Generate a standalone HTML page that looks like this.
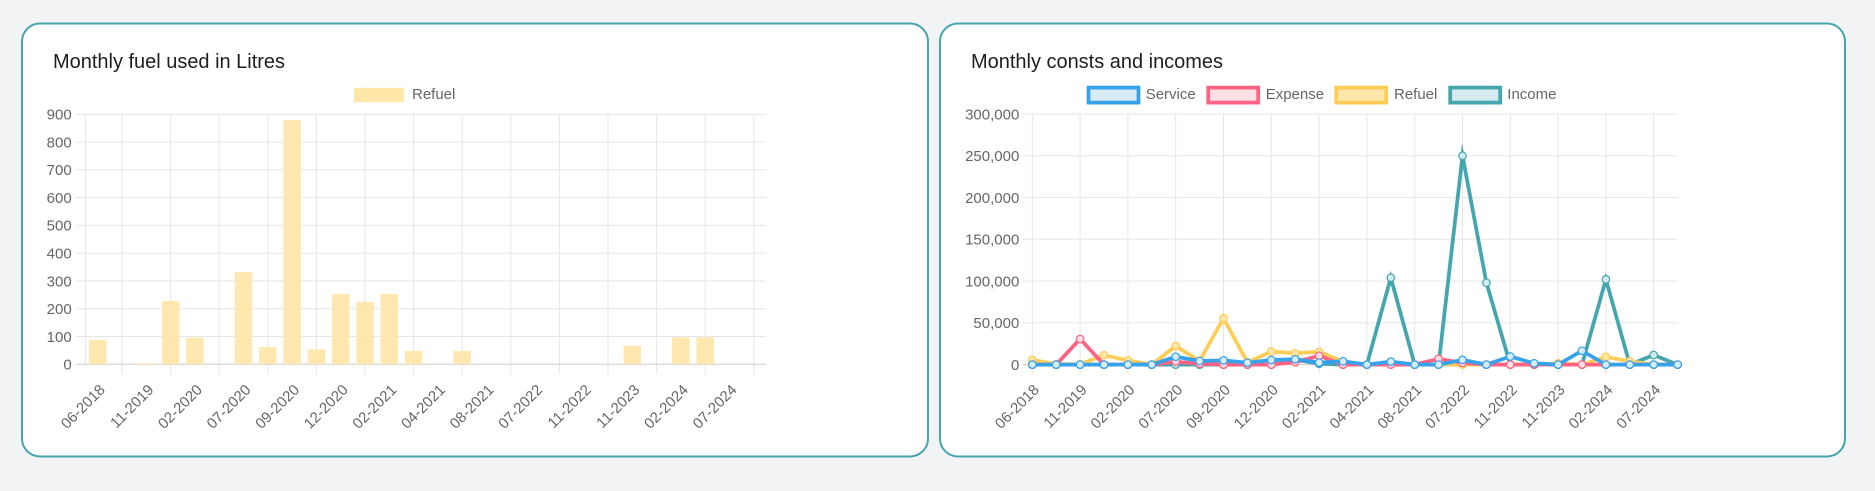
<!DOCTYPE html>
<html>
<head>
<meta charset="utf-8">
<style>
html,body{margin:0;padding:0;background:#f2f3f5;}
svg{display:block;}
text{font-family:"Liberation Sans",Arial,sans-serif;}
</style>
</head>
<body>
<svg width="1875" height="491" viewBox="0 0 1875 491" xmlns="http://www.w3.org/2000/svg">
<rect x="0" y="0" width="1875" height="491" fill="#f2f3f5"/>
<!-- Cards -->
<rect x="22" y="23.5" width="906" height="433" rx="18" ry="18" fill="#ffffff" stroke="#45a4ad" stroke-width="2"/>
<rect x="940" y="23.5" width="905" height="433" rx="18" ry="18" fill="#ffffff" stroke="#45a4ad" stroke-width="2"/>

<!-- Titles -->
<text x="53" y="68" font-size="20" fill="#1e1e1e" textLength="232" lengthAdjust="spacingAndGlyphs">Monthly fuel used in Litres</text>
<text x="971" y="68" font-size="20" fill="#1e1e1e" textLength="252" lengthAdjust="spacingAndGlyphs">Monthly consts and incomes</text>

<!-- ================= LEFT CHART ================= -->
<g stroke="#e6e6e6" stroke-width="1">
  <!-- horizontal gridlines -->
  <line x1="76" y1="336.5" x2="766" y2="336.5"/>
  <line x1="76" y1="308.7" x2="766" y2="308.7"/>
  <line x1="76" y1="281.0" x2="766" y2="281.0"/>
  <line x1="76" y1="253.2" x2="766" y2="253.2"/>
  <line x1="76" y1="225.4" x2="766" y2="225.4"/>
  <line x1="76" y1="197.6" x2="766" y2="197.6"/>
  <line x1="76" y1="169.8" x2="766" y2="169.8"/>
  <line x1="76" y1="142.1" x2="766" y2="142.1"/>
  <line x1="76" y1="114.3" x2="766" y2="114.3"/>
  <!-- vertical gridlines -->
  <line x1="85.5" y1="114.3" x2="85.5" y2="364.3"/>
  <line x1="122.0" y1="114.3" x2="122.0" y2="374.3"/>
  <line x1="170.6" y1="114.3" x2="170.6" y2="374.3"/>
  <line x1="219.2" y1="114.3" x2="219.2" y2="374.3"/>
  <line x1="267.8" y1="114.3" x2="267.8" y2="374.3"/>
  <line x1="316.4" y1="114.3" x2="316.4" y2="374.3"/>
  <line x1="365.0" y1="114.3" x2="365.0" y2="374.3"/>
  <line x1="413.6" y1="114.3" x2="413.6" y2="374.3"/>
  <line x1="462.2" y1="114.3" x2="462.2" y2="374.3"/>
  <line x1="510.8" y1="114.3" x2="510.8" y2="374.3"/>
  <line x1="559.4" y1="114.3" x2="559.4" y2="374.3"/>
  <line x1="608.0" y1="114.3" x2="608.0" y2="374.3"/>
  <line x1="656.6" y1="114.3" x2="656.6" y2="374.3"/>
  <line x1="705.2" y1="114.3" x2="705.2" y2="374.3"/>
  <line x1="753.8" y1="114.3" x2="753.8" y2="374.3"/>
</g>
<line x1="76" y1="364.3" x2="766" y2="364.3" stroke="#cccccc" stroke-width="1"/>

<!-- bars -->
<g fill="#ffe6a9" fill-opacity="0.92">
  <rect x="88.95" y="339.9" width="17.5" height="24.4"/>
  <rect x="137.55" y="363.3" width="17.5" height="1.0"/>
  <rect x="161.85" y="301.0" width="17.5" height="63.3"/>
  <rect x="186.15" y="337.6" width="17.5" height="26.7"/>
  <rect x="234.75" y="272.1" width="17.5" height="92.2"/>
  <rect x="259.05" y="347.1" width="17.5" height="17.2"/>
  <rect x="283.35" y="120.1" width="17.5" height="244.2"/>
  <rect x="307.65" y="349.3" width="17.5" height="15.0"/>
  <rect x="331.95" y="294.0" width="17.5" height="70.3"/>
  <rect x="356.25" y="302.1" width="17.5" height="62.2"/>
  <rect x="380.55" y="294.0" width="17.5" height="70.3"/>
  <rect x="404.85" y="351.0" width="17.5" height="13.3"/>
  <rect x="453.45" y="351.0" width="17.5" height="13.3"/>
  <rect x="623.55" y="345.7" width="17.5" height="18.6"/>
  <rect x="672.15" y="337.4" width="17.5" height="26.9"/>
  <rect x="696.45" y="337.4" width="17.5" height="26.9"/>
</g>

<!-- left y labels -->
<g font-size="15" fill="#666666" text-anchor="end">
  <text x="71.7" y="369.6">0</text>
  <text x="71.7" y="341.8">100</text>
  <text x="71.7" y="314.0">200</text>
  <text x="71.7" y="286.3">300</text>
  <text x="71.7" y="258.5">400</text>
  <text x="71.7" y="230.7">500</text>
  <text x="71.7" y="202.9">600</text>
  <text x="71.7" y="175.1">700</text>
  <text x="71.7" y="147.4">800</text>
  <text x="71.7" y="119.6">900</text>
</g>

<!-- left x labels -->
<g font-size="15" fill="#666666" text-anchor="end" dominant-baseline="central">
  <text transform="translate(102.7,387.5) rotate(-45)">06-2018</text>
  <text transform="translate(151.3,387.5) rotate(-45)">11-2019</text>
  <text transform="translate(199.9,387.5) rotate(-45)">02-2020</text>
  <text transform="translate(248.5,387.5) rotate(-45)">07-2020</text>
  <text transform="translate(297.1,387.5) rotate(-45)">09-2020</text>
  <text transform="translate(345.7,387.5) rotate(-45)">12-2020</text>
  <text transform="translate(394.3,387.5) rotate(-45)">02-2021</text>
  <text transform="translate(442.9,387.5) rotate(-45)">04-2021</text>
  <text transform="translate(491.5,387.5) rotate(-45)">08-2021</text>
  <text transform="translate(540.1,387.5) rotate(-45)">07-2022</text>
  <text transform="translate(588.7,387.5) rotate(-45)">11-2022</text>
  <text transform="translate(637.3,387.5) rotate(-45)">11-2023</text>
  <text transform="translate(685.9,387.5) rotate(-45)">02-2024</text>
  <text transform="translate(734.5,387.5) rotate(-45)">07-2024</text>
</g>

<!-- left legend -->
<rect x="354" y="87.8" width="50" height="14.5" fill="#ffe6a9"/>
<text x="412" y="99.2" font-size="15" fill="#666666">Refuel</text>

<!-- ================= RIGHT CHART ================= -->
<g stroke="#e6e6e6" stroke-width="1">
  <line x1="1022.7" y1="322.8" x2="1677.6" y2="322.8"/>
  <line x1="1022.7" y1="281.1" x2="1677.6" y2="281.1"/>
  <line x1="1022.7" y1="239.3" x2="1677.6" y2="239.3"/>
  <line x1="1022.7" y1="197.5" x2="1677.6" y2="197.5"/>
  <line x1="1022.7" y1="155.8" x2="1677.6" y2="155.8"/>
  <line x1="1022.7" y1="114.0" x2="1677.6" y2="114.0"/>
  <line x1="1032.3" y1="114" x2="1032.3" y2="374.6"/>
  <line x1="1080.1" y1="114" x2="1080.1" y2="374.6"/>
  <line x1="1127.9" y1="114" x2="1127.9" y2="374.6"/>
  <line x1="1175.7" y1="114" x2="1175.7" y2="374.6"/>
  <line x1="1223.5" y1="114" x2="1223.5" y2="374.6"/>
  <line x1="1271.3" y1="114" x2="1271.3" y2="374.6"/>
  <line x1="1319.1" y1="114" x2="1319.1" y2="374.6"/>
  <line x1="1366.9" y1="114" x2="1366.9" y2="374.6"/>
  <line x1="1414.7" y1="114" x2="1414.7" y2="374.6"/>
  <line x1="1462.5" y1="114" x2="1462.5" y2="374.6"/>
  <line x1="1510.3" y1="114" x2="1510.3" y2="374.6"/>
  <line x1="1558.1" y1="114" x2="1558.1" y2="374.6"/>
  <line x1="1605.9" y1="114" x2="1605.9" y2="374.6"/>
  <line x1="1653.7" y1="114" x2="1653.7" y2="374.6"/>
</g>
<line x1="1022.7" y1="364.6" x2="1677.6" y2="364.6" stroke="#cccccc" stroke-width="1"/>

<!-- right y labels -->
<g font-size="15" fill="#666666" text-anchor="end">
  <text x="1019.3" y="369.9">0</text>
  <text x="1019.3" y="328.1">50,000</text>
  <text x="1019.3" y="286.4">100,000</text>
  <text x="1019.3" y="244.6">150,000</text>
  <text x="1019.3" y="202.8">200,000</text>
  <text x="1019.3" y="161.1">250,000</text>
  <text x="1019.3" y="119.3">300,000</text>
</g>

<!-- right x labels -->
<g font-size="15" fill="#666666" text-anchor="end" dominant-baseline="central">
  <text transform="translate(1036.8,387.5) rotate(-45)">06-2018</text>
  <text transform="translate(1084.6,387.5) rotate(-45)">11-2019</text>
  <text transform="translate(1132.4,387.5) rotate(-45)">02-2020</text>
  <text transform="translate(1180.2,387.5) rotate(-45)">07-2020</text>
  <text transform="translate(1228.0,387.5) rotate(-45)">09-2020</text>
  <text transform="translate(1275.8,387.5) rotate(-45)">12-2020</text>
  <text transform="translate(1323.6,387.5) rotate(-45)">02-2021</text>
  <text transform="translate(1371.4,387.5) rotate(-45)">04-2021</text>
  <text transform="translate(1419.2,387.5) rotate(-45)">08-2021</text>
  <text transform="translate(1467.0,387.5) rotate(-45)">07-2022</text>
  <text transform="translate(1514.8,387.5) rotate(-45)">11-2022</text>
  <text transform="translate(1562.6,387.5) rotate(-45)">11-2023</text>
  <text transform="translate(1610.4,387.5) rotate(-45)">02-2024</text>
  <text transform="translate(1658.2,387.5) rotate(-45)">07-2024</text>
</g>

<!-- Income (bottom) -->
<path d="M1032.3,364.6 L1056.2,364.6 L1080.1,364.6 L1104.0,364.6 L1127.9,364.6 L1151.8,364.6 L1175.7,364.6 L1199.6,364.6 L1223.5,364.6 L1247.4,364.6 L1271.3,364.6 L1295.2,359.6 L1319.1,363.8 L1343.0,364.6 L1366.9,364.6 L1390.8,277.7 L1414.7,364.6 L1438.6,364.6 L1462.5,155.8 L1486.4,282.7 L1510.3,364.6 L1534.2,364.6 L1558.1,364.6 L1582.0,364.6 L1605.9,279.4 L1629.8,364.6 L1653.7,355.0 L1677.6,364.6" fill="none" stroke="#46a6ae" stroke-width="3.75" stroke-linejoin="miter" stroke-miterlimit="10"/>
<g fill="#d6eaf1" stroke="#46a6ae" stroke-width="1.25">
  <circle cx="1032.3" cy="364.6" r="3.75"/><circle cx="1056.2" cy="364.6" r="3.75"/><circle cx="1080.1" cy="364.6" r="3.75"/><circle cx="1104.0" cy="364.6" r="3.75"/><circle cx="1127.9" cy="364.6" r="3.75"/><circle cx="1151.8" cy="364.6" r="3.75"/><circle cx="1175.7" cy="364.6" r="3.75"/><circle cx="1199.6" cy="364.6" r="3.75"/><circle cx="1223.5" cy="364.6" r="3.75"/><circle cx="1247.4" cy="364.6" r="3.75"/><circle cx="1271.3" cy="364.6" r="3.75"/><circle cx="1295.2" cy="359.6" r="3.75"/><circle cx="1319.1" cy="363.8" r="3.75"/><circle cx="1343.0" cy="364.6" r="3.75"/><circle cx="1366.9" cy="364.6" r="3.75"/><circle cx="1390.8" cy="277.7" r="3.75"/><circle cx="1414.7" cy="364.6" r="3.75"/><circle cx="1438.6" cy="364.6" r="3.75"/><circle cx="1462.5" cy="155.8" r="3.75"/><circle cx="1486.4" cy="282.7" r="3.75"/><circle cx="1510.3" cy="364.6" r="3.75"/><circle cx="1534.2" cy="364.6" r="3.75"/><circle cx="1558.1" cy="364.6" r="3.75"/><circle cx="1582.0" cy="364.6" r="3.75"/><circle cx="1605.9" cy="279.4" r="3.75"/><circle cx="1629.8" cy="364.6" r="3.75"/><circle cx="1653.7" cy="355.0" r="3.75"/><circle cx="1677.6" cy="364.6" r="3.75"/>
</g>

<!-- Refuel -->
<path d="M1032.3,359.9 L1056.2,364.2 L1080.1,364.2 L1104.0,355.2 L1127.9,360.4 L1151.8,364.6 L1175.7,346.0 L1199.6,361.0 L1223.5,318.3 L1247.4,362.3 L1271.3,351.5 L1295.2,353.2 L1319.1,351.8 L1343.0,361.6 L1366.9,364.6 L1390.8,362.1 L1414.7,364.6 L1438.6,364.6 L1462.5,364.6 L1486.4,364.6 L1510.3,364.6 L1534.2,364.6 L1558.1,363.3 L1582.0,364.6 L1605.9,356.9 L1629.8,361.3 L1653.7,364.6 L1677.6,364.6" fill="none" stroke="#ffcd56" stroke-width="3.75" stroke-linejoin="miter" stroke-miterlimit="10"/>
<g fill="#ffe6aa" stroke="#ffcd56" stroke-width="1.25">
  <circle cx="1032.3" cy="359.9" r="3.75"/><circle cx="1056.2" cy="364.2" r="3.75"/><circle cx="1080.1" cy="364.2" r="3.75"/><circle cx="1104.0" cy="355.2" r="3.75"/><circle cx="1127.9" cy="360.4" r="3.75"/><circle cx="1151.8" cy="364.6" r="3.75"/><circle cx="1175.7" cy="346.0" r="3.75"/><circle cx="1199.6" cy="361.0" r="3.75"/><circle cx="1223.5" cy="318.3" r="3.75"/><circle cx="1247.4" cy="362.3" r="3.75"/><circle cx="1271.3" cy="351.5" r="3.75"/><circle cx="1295.2" cy="353.2" r="3.75"/><circle cx="1319.1" cy="351.8" r="3.75"/><circle cx="1343.0" cy="361.6" r="3.75"/><circle cx="1366.9" cy="364.6" r="3.75"/><circle cx="1390.8" cy="362.1" r="3.75"/><circle cx="1414.7" cy="364.6" r="3.75"/><circle cx="1438.6" cy="364.6" r="3.75"/><circle cx="1462.5" cy="364.6" r="3.75"/><circle cx="1486.4" cy="364.6" r="3.75"/><circle cx="1510.3" cy="364.6" r="3.75"/><circle cx="1534.2" cy="364.6" r="3.75"/><circle cx="1558.1" cy="363.3" r="3.75"/><circle cx="1582.0" cy="364.6" r="3.75"/><circle cx="1605.9" cy="356.9" r="3.75"/><circle cx="1629.8" cy="361.3" r="3.75"/><circle cx="1653.7" cy="364.6" r="3.75"/><circle cx="1677.6" cy="364.6" r="3.75"/>
</g>

<!-- Expense -->
<path d="M1032.3,364.6 L1056.2,364.6 L1080.1,339.0 L1104.0,364.6 L1127.9,364.6 L1151.8,364.6 L1175.7,361.7 L1199.6,363.8 L1223.5,364.6 L1247.4,364.6 L1271.3,364.6 L1295.2,362.1 L1319.1,355.8 L1343.0,364.6 L1366.9,364.6 L1390.8,364.6 L1414.7,364.6 L1438.6,358.9 L1462.5,362.9 L1486.4,364.6 L1510.3,364.6 L1534.2,364.6 L1558.1,364.6 L1582.0,364.6 L1605.9,364.6 L1629.8,364.6 L1653.7,364.6 L1677.6,364.6" fill="none" stroke="#ff6384" stroke-width="3.75" stroke-linejoin="miter" stroke-miterlimit="10"/>
<g fill="#ffe0e6" stroke="#ff6384" stroke-width="1.25">
  <circle cx="1032.3" cy="364.6" r="3.75"/><circle cx="1056.2" cy="364.6" r="3.75"/><circle cx="1080.1" cy="339.0" r="3.75"/><circle cx="1104.0" cy="364.6" r="3.75"/><circle cx="1127.9" cy="364.6" r="3.75"/><circle cx="1151.8" cy="364.6" r="3.75"/><circle cx="1175.7" cy="361.7" r="3.75"/><circle cx="1199.6" cy="363.8" r="3.75"/><circle cx="1223.5" cy="364.6" r="3.75"/><circle cx="1247.4" cy="364.6" r="3.75"/><circle cx="1271.3" cy="364.6" r="3.75"/><circle cx="1295.2" cy="362.1" r="3.75"/><circle cx="1319.1" cy="355.8" r="3.75"/><circle cx="1343.0" cy="364.6" r="3.75"/><circle cx="1366.9" cy="364.6" r="3.75"/><circle cx="1390.8" cy="364.6" r="3.75"/><circle cx="1414.7" cy="364.6" r="3.75"/><circle cx="1438.6" cy="358.9" r="3.75"/><circle cx="1462.5" cy="362.9" r="3.75"/><circle cx="1486.4" cy="364.6" r="3.75"/><circle cx="1510.3" cy="364.6" r="3.75"/><circle cx="1534.2" cy="364.6" r="3.75"/><circle cx="1558.1" cy="364.6" r="3.75"/><circle cx="1582.0" cy="364.6" r="3.75"/><circle cx="1605.9" cy="364.6" r="3.75"/><circle cx="1629.8" cy="364.6" r="3.75"/><circle cx="1653.7" cy="364.6" r="3.75"/><circle cx="1677.6" cy="364.6" r="3.75"/>
</g>

<!-- Service (top) -->
<path d="M1032.3,364.6 L1056.2,364.6 L1080.1,364.6 L1104.0,364.6 L1127.9,364.6 L1151.8,364.6 L1175.7,356.7 L1199.6,361.0 L1223.5,360.4 L1247.4,362.7 L1271.3,360.0 L1295.2,359.3 L1319.1,362.6 L1343.0,361.3 L1366.9,364.6 L1390.8,361.6 L1414.7,364.6 L1438.6,364.6 L1462.5,359.9 L1486.4,364.6 L1510.3,356.5 L1534.2,363.3 L1558.1,364.6 L1582.0,350.8 L1605.9,364.6 L1629.8,364.6 L1653.7,364.6 L1677.6,364.6" fill="none" stroke="#36a2eb" stroke-width="3.75" stroke-linejoin="miter" stroke-miterlimit="10"/>
<g fill="#d7ecf5" stroke="#36a2eb" stroke-width="1.25">
  <circle cx="1032.3" cy="364.6" r="3.75"/><circle cx="1056.2" cy="364.6" r="3.75"/><circle cx="1080.1" cy="364.6" r="3.75"/><circle cx="1104.0" cy="364.6" r="3.75"/><circle cx="1127.9" cy="364.6" r="3.75"/><circle cx="1151.8" cy="364.6" r="3.75"/><circle cx="1175.7" cy="356.7" r="3.75"/><circle cx="1199.6" cy="361.0" r="3.75"/><circle cx="1223.5" cy="360.4" r="3.75"/><circle cx="1247.4" cy="362.7" r="3.75"/><circle cx="1271.3" cy="360.0" r="3.75"/><circle cx="1295.2" cy="359.3" r="3.75"/><circle cx="1319.1" cy="362.6" r="3.75"/><circle cx="1343.0" cy="361.3" r="3.75"/><circle cx="1366.9" cy="364.6" r="3.75"/><circle cx="1390.8" cy="361.6" r="3.75"/><circle cx="1414.7" cy="364.6" r="3.75"/><circle cx="1438.6" cy="364.6" r="3.75"/><circle cx="1462.5" cy="359.9" r="3.75"/><circle cx="1486.4" cy="364.6" r="3.75"/><circle cx="1510.3" cy="356.5" r="3.75"/><circle cx="1534.2" cy="363.3" r="3.75"/><circle cx="1558.1" cy="364.6" r="3.75"/><circle cx="1582.0" cy="350.8" r="3.75"/><circle cx="1605.9" cy="364.6" r="3.75"/><circle cx="1629.8" cy="364.6" r="3.75"/><circle cx="1653.7" cy="364.6" r="3.75"/><circle cx="1677.6" cy="364.6" r="3.75"/>
</g>

<!-- right legend -->
<rect x="1088.5" y="87.6" width="50" height="15" fill="#d7ecf5" stroke="#36a2eb" stroke-width="3.75"/>
<text x="1145.7" y="99.2" font-size="15" fill="#666666">Service</text>
<rect x="1208.2" y="87.6" width="50" height="15" fill="#ffe0e6" stroke="#ff6384" stroke-width="3.75"/>
<text x="1265.7" y="99.2" font-size="15" fill="#666666">Expense</text>
<rect x="1336.2" y="87.6" width="50" height="15" fill="#ffe6aa" stroke="#ffcd56" stroke-width="3.75"/>
<text x="1394" y="99.2" font-size="15" fill="#666666">Refuel</text>
<rect x="1450.2" y="87.6" width="50" height="15" fill="#d6eaf1" stroke="#46a6ae" stroke-width="3.75"/>
<text x="1507.3" y="99.2" font-size="15" fill="#666666">Income</text>
</svg>
</body>
</html>
